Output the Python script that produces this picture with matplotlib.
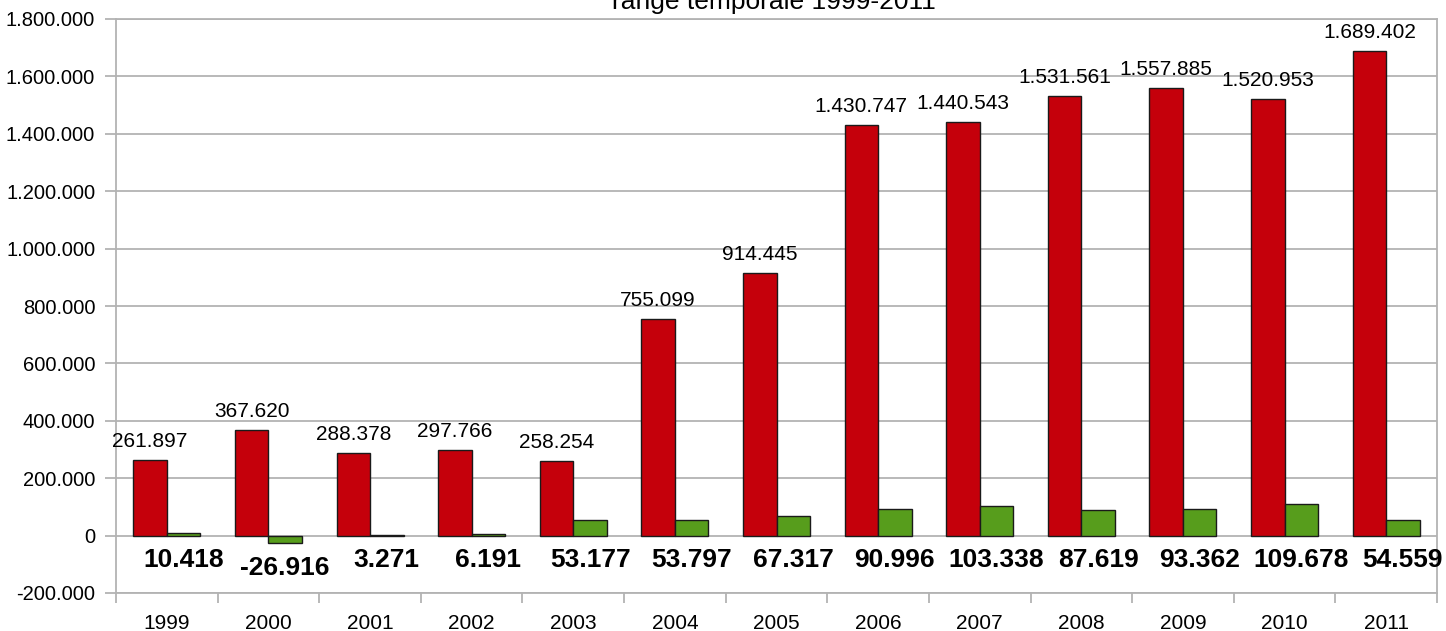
import matplotlib
matplotlib.use('Agg')
import matplotlib.pyplot as plt
import numpy as np
from matplotlib.ticker import FuncFormatter, FixedLocator

plt.rcParams['font.family'] = ['Liberation Sans', 'DejaVu Sans']

years = ['1999', '2000', '2001', '2002', '2003', '2004', '2005',
         '2006', '2007', '2008', '2009', '2010', '2011']
red_values = [261897, 367620, 288378, 297766, 258254, 755099, 914445,
              1430747, 1440543, 1531561, 1557885, 1520953, 1689402]
green_values = [10418, -26916, 3271, 6191, 53177, 53797, 67317,
                90996, 103338, 87619, 93362, 109678, 54559]
title = 'range temporale 1999-2011'

def dots(v):
    return format(int(v), ',').replace(',', '.')

grid_col = '#b3b3b3'
x = np.arange(len(years))
width = 0.33

fig = plt.figure(figsize=(14.46, 6.31), dpi=100)
ax = fig.add_axes([116 / 1446, 1 - 593 / 631, (1437 - 116) / 1446, (593 - 19) / 631])

ax.bar(x - width / 2, red_values, width, color='#c5000b', edgecolor='#1a1a1a', linewidth=1, zorder=3)
ax.bar(x + width / 2, green_values, width, color='#579d1c', edgecolor='#1a1a1a', linewidth=1, zorder=3)

for i, v in enumerate(red_values):
    ax.annotate(dots(v), (x[i] - width / 2, v), xytext=(0, 9.5), textcoords='offset points',
                ha='center', va='baseline', fontsize=15, color='black', zorder=5)

for i, v in enumerate(green_values):
    ax.annotate(dots(v), (x[i] + width / 2, min(v, 0)), xytext=(0, -22.5), textcoords='offset points',
                ha='center', va='baseline', fontsize=19, fontweight='bold', color='black', zorder=5)

ax.set_xlim(-0.5, len(years) - 0.5)
ax.set_ylim(-200000, 1800000)
ax.set_yticks(np.arange(-200000, 1800001, 200000))
ax.yaxis.set_major_formatter(FuncFormatter(lambda v, p: dots(v)))
ax.grid(axis='y', color=grid_col, linewidth=1.3, zorder=0)

ax.set_xticks(x)
ax.set_xticklabels(years)
ax.xaxis.set_minor_locator(FixedLocator(np.arange(-0.5, len(years), 1.0)))
ax.tick_params(axis='x', which='major', length=0, pad=15, labelsize=15)
ax.tick_params(axis='x', which='minor', length=7.5, width=1.3, color=grid_col)
ax.tick_params(axis='y', length=8, width=1.3, color=grid_col, pad=7, labelsize=14.5)

for s in ax.spines.values():
    s.set_color(grid_col)
    s.set_linewidth(1.3)

fig.text(774 / 1446, 1 - 9 / 631, title, ha='center', va='baseline', fontsize=19)

fig.savefig('out.png', dpi=100)
